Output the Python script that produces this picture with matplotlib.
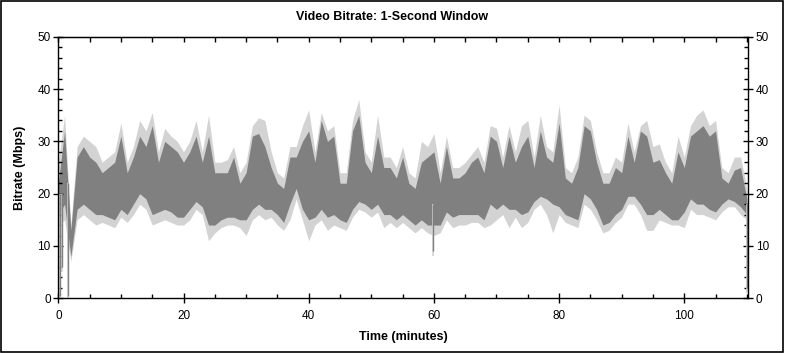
import matplotlib
matplotlib.use('Agg')
import matplotlib.pyplot as plt
from matplotlib.ticker import MultipleLocator
from matplotlib.patches import Rectangle

plt.rcParams['font.family'] = ['Liberation Sans', 'DejaVu Sans']

# values, one sample per minute
minutes = list(range(111))

# upper / lower edge of the dark (1-second) trace
dark_hi = [22, 32, 13, 27, 29, 27, 26, 24, 25, 26,
           31, 24, 27, 31, 29, 33, 26, 30, 29, 28,
           26, 28, 31, 26, 31, 24, 24, 24, 27, 22,
           24, 31, 31.5, 29, 25, 22, 21, 27, 27, 30,
           32, 26, 34, 30, 31, 22, 22, 32, 35, 26,
           24, 31, 25, 25, 23, 27, 22, 21, 26, 27,
           28, 22, 29, 23, 23, 24, 26, 27, 24, 31,
           30, 25, 31, 26, 29, 31, 25, 32, 27, 26,
           33.5, 23, 22, 25, 33, 32, 26, 22, 22, 25,
           24, 31, 26, 32, 31, 26, 26.5, 24, 22, 28,
           25, 31, 32, 33, 31, 32, 23, 22, 24.5, 25,
           19]
dark_lo = [16, 18, 8, 17, 18, 17, 16, 16, 15.5, 15,
           17, 16, 18, 20, 19, 16, 16.5, 17, 16.5, 15.5,
           15.5, 17, 18.5, 17.5, 14, 14, 15, 15.5, 15.5, 15,
           15, 17, 18, 17, 17, 16, 14.5, 18, 21, 17,
           15, 15.5, 17, 15.5, 16, 15, 14.5, 17, 18.5, 18,
           17, 18, 16, 16, 15, 16, 15, 14, 15, 14,
           14, 14, 16.5, 15.5, 16, 16, 16, 16, 15, 18,
           17, 18, 17, 17, 16, 16.5, 18.5, 19.5, 19, 18,
           17.5, 16, 15.5, 15, 20, 19, 17, 14, 14.5, 16,
           17, 19.5, 19.5, 18, 16, 16, 17, 16, 15, 15,
           16.5, 19, 18, 18, 17, 16.5, 18, 19, 18.5, 17.5,
           16]

# extremes of the light grey band
light_hi = [26, 35, 14, 29, 31, 30, 29, 26, 27, 28,
            33.5, 26, 29, 34, 32, 35.5, 28, 32.5, 31, 30,
            28, 30, 34, 28, 35, 26, 26, 26.5, 29, 24,
            26, 33, 34.5, 34, 28, 24, 23, 29, 29, 33,
            36, 28, 35.5, 32, 33, 24, 24, 34, 38, 28,
            26, 35, 27, 27, 25, 29, 24, 23, 30, 29,
            31.5, 24, 31, 25, 25, 26, 27.5, 29, 26, 33,
            32.5, 27, 33, 28, 33, 34, 27, 35, 29, 28,
            37, 25, 24, 27, 35, 34, 28, 24, 24, 27,
            26, 33.5, 28, 33, 34, 29, 29.5, 26, 24, 31,
            27, 33, 35, 36, 33, 34, 25, 24, 27, 27,
            21]
light_lo = [14, 15, 7, 15, 16, 15, 14, 14.5, 14, 13.5,
            15.5, 14.5, 16, 18, 17, 14, 14.5, 15, 14.5, 14,
            14, 15, 17, 16, 11, 12.5, 13.5, 14, 14, 13.5,
            12, 15, 16, 15, 15.5, 14, 13, 15, 19, 15,
            11, 14, 15, 13, 14, 13.5, 13, 15.5, 17, 16.5,
            15.5, 16.5, 13.5, 14.5, 13.5, 14.5, 13.5, 12.5, 13.5, 12.5,
            12, 12.5, 15, 13.5, 14, 14, 14.5, 14.5, 13.5, 14,
            15, 16, 13.5, 15.5, 13.5, 14.5, 17, 18, 16, 12.5,
            16, 14.5, 14, 13.5, 18, 17, 15, 12.5, 13, 14.5,
            15.5, 18, 18, 16, 13, 13, 15, 14.5, 14, 14,
            13.5, 17, 16, 16, 15.5, 15, 16.5, 17.5, 17.5, 16,
            15]

# short drops of the trace
drop_t = [0.3, 0.6, 1.6, 59.9, 110.0]
drop_lo = [0.5, 6, 0.5, 9, 2]
drop_hi = [20, 20, 22, 18, 18]

fig = plt.figure(figsize=(7.85, 3.53), dpi=100)
ax = fig.add_axes([0.0743, 0.155, 0.8787, 0.741])

ax.fill_between(minutes, light_lo, light_hi, color='#d3d3d3', lw=0)
ax.fill_between(minutes, dark_lo, dark_hi, color='#808080', lw=0)
ax.vlines(drop_t, [v - 1 for v in drop_lo], drop_hi, color='#d3d3d3', lw=1.2)
ax.vlines(drop_t, drop_lo, drop_hi, color='#808080', lw=1)

ax.set_xlim(0, 110.2)
ax.set_ylim(0, 50)
ax.xaxis.set_major_locator(MultipleLocator(20))
ax.xaxis.set_minor_locator(MultipleLocator(5))
ax.yaxis.set_major_locator(MultipleLocator(10))
ax.yaxis.set_minor_locator(MultipleLocator(2))
ax.tick_params(which='both', right=True, labelright=True,
               labelsize=8.5, width=1, color='black')
ax.tick_params(which='major', direction='inout', length=7, pad=2)
ax.tick_params(which='minor', direction='in', length=3)
ax.tick_params(axis='x', which='major', pad=5)
for s in ax.spines.values():
    s.set_linewidth(1)

# top axis: inward ticks only
top = ax.secondary_xaxis('top')
top.xaxis.set_major_locator(MultipleLocator(5))
top.tick_params(direction='in', length=3.5, width=1, labeltop=False)

ax.set_xlabel('Time (minutes)', fontsize=9, fontweight='bold', labelpad=6.5)
ax.set_ylabel('Bitrate (Mbps)', fontsize=9, fontweight='bold', labelpad=8.5)
fig.text(0.5, 0.952, 'Video Bitrate: 1-Second Window', ha='center', va='center',
         fontsize=9, fontweight='bold')

fig.patches.append(Rectangle((0.001, 0.002), 0.997, 0.995, transform=fig.transFigure,
                             fill=False, edgecolor='black', lw=1.2))

fig.savefig('out.png', dpi=100)
